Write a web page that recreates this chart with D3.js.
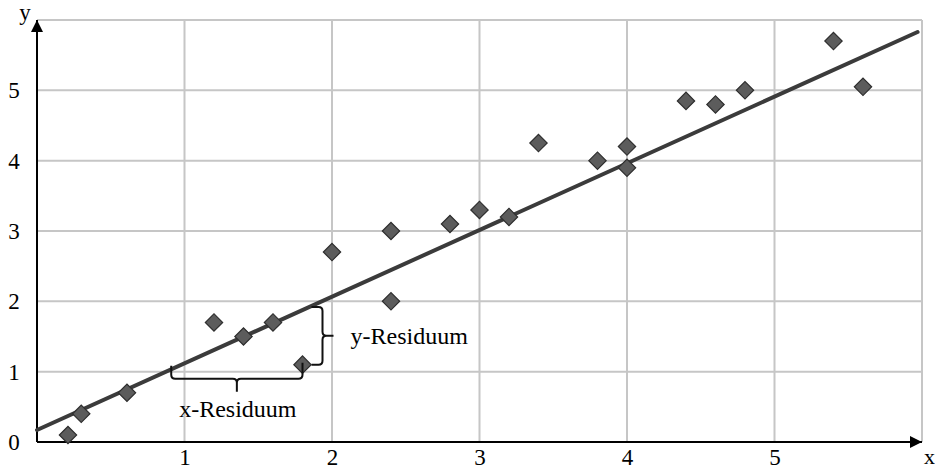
<!DOCTYPE html>
<html><head><meta charset="utf-8">
<script src="https://cdn.jsdelivr.net/npm/d3@7"></script>
<style>
html,body{margin:0;padding:0;background:#fff;}
svg{display:block;}
text{font-family:"Liberation Serif","Times New Roman",serif;fill:#000;}
</style></head>
<body>
<svg id="chart" width="935" height="470"></svg>
<script>
// ---- data ----
const xValues = [0.21,0.3,0.61,1.2,1.4,1.6,1.8,2.0,2.4,2.4,2.8,3.0,3.2,3.4,3.8,4.0,4.0,4.4,4.6,4.8,5.4,5.6];
const yValues = [0.1,0.4,0.7,1.7,1.5,1.7,1.1,2.7,3.0,2.0,3.1,3.3,3.2,4.25,4.0,4.2,3.9,4.85,4.8,5.0,5.7,5.05];
const regLineX = [0, 5.97];
const regLineY = [0.17, 5.83];
const xTickLabels = [1,2,3,4,5];
const yTickLabels = [0,1,2,3,4,5];
const gridX = [1,2,3,4,5,6];
const gridY = [1,2,3,4,5,6];
const xResidual = {x0:0.91, x1:1.8, y:1.1, label:"x-Residuum"};
const yResidual = {x:1.8, y0:1.1, y1:1.92, label:"y-Residuum"};
const axisNames = {x:"x", y:"y"};

// ---- scales ----
const svg = d3.select("#chart");
const x = d3.scaleLinear().domain([0,6]).range([37,922]);
const y = d3.scaleLinear().domain([0,6]).range([442,20]);

// grid
const g = svg.append("g");
g.selectAll("line.gx").data(gridX).join("line")
  .attr("x1",d=>x(d)).attr("x2",d=>x(d)).attr("y1",y(0)).attr("y2",y(6))
  .attr("stroke","#c6c6c6").attr("stroke-width",2);
g.selectAll("line.gy").data(gridY).join("line")
  .attr("x1",x(0)).attr("x2",x(6)).attr("y1",d=>y(d)).attr("y2",d=>y(d))
  .attr("stroke","#c6c6c6").attr("stroke-width",2);

// axes with arrows
svg.append("defs").append("marker").attr("id","arrow")
  .attr("viewBox","0 0 10 10").attr("refX",10).attr("refY",5)
  .attr("markerWidth",9).attr("markerHeight",6).attr("markerUnits","strokeWidth")
  .attr("orient","auto")
  .append("path").attr("d","M0,0 L10,5 L0,10 Z").attr("fill","#000");
svg.append("line").attr("x1",x(0)).attr("y1",y(0)).attr("x2",x(6)).attr("y2",y(0))
  .attr("stroke","#000").attr("stroke-width",2).attr("marker-end","url(#arrow)");
svg.append("line").attr("x1",x(0)).attr("y1",y(0)).attr("x2",x(0)).attr("y2",y(6))
  .attr("stroke","#000").attr("stroke-width",2).attr("marker-end","url(#arrow)");

// tick labels via axes
const xAxis = d3.axisBottom(x).tickValues(xTickLabels).tickSize(0).tickPadding(0).tickFormat(d3.format("d"));
const xa = svg.append("g").attr("transform",`translate(0,${y(0)})`).call(xAxis);
xa.select(".domain").remove();
xa.selectAll("text").attr("dy",null).attr("y",23).attr("font-size",23)
  .attr("font-family","Liberation Serif, serif").attr("fill","#000");

const yAxis = d3.axisLeft(y).tickValues(yTickLabels).tickSize(0).tickPadding(0).tickFormat(d3.format("d"));
const ya = svg.append("g").attr("transform",`translate(14,0)`).call(yAxis);
ya.select(".domain").remove();
ya.selectAll("text").attr("text-anchor","middle").attr("x",0).attr("dy","0.32em").attr("font-size",23)
  .attr("font-family","Liberation Serif, serif").attr("fill","#000");

svg.append("text").attr("x",25).attr("y",20).attr("text-anchor","middle").attr("font-size",23).text(axisNames.y);
svg.append("text").attr("x",924).attr("y",464).attr("font-size",22).text(axisNames.x);

// regression line
svg.append("line")
  .attr("x1",x(regLineX[0])).attr("y1",y(regLineY[0]))
  .attr("x2",x(regLineX[1])).attr("y2",y(regLineY[1]))
  .attr("stroke","#3b3b3b").attr("stroke-width",4).attr("stroke-linecap","round");

// points
const pts = xValues.map((v,i)=>({x:v,y:yValues[i]}));
svg.selectAll("path.pt").data(pts).join("path")
  .attr("class","pt")
  .attr("d",d3.symbol(d3.symbolSquare,150)())
  .attr("transform",d=>`translate(${x(d.x)},${y(d.y)}) rotate(45)`)
  .attr("fill","#5c5c5c").attr("stroke","#2e2e2e").attr("stroke-width",1.2);

// braces
const bStroke = {fill:"none",stroke:"#111","stroke-width":2};
function applyStyle(sel){ for (const k in bStroke) sel.attr(k,bStroke[k]); return sel; }
// x-residual brace (horizontal, below)
{
  const xa0 = x(xResidual.x0), xb0 = x(xResidual.x1), yt = y(xResidual.y);
  const ym = yt + 14, xc = (xa0+xb0)/2, r = 4;
  const p = `M${xa0},${yt+1} L${xa0},${ym-r} Q${xa0},${ym} ${xa0+r},${ym} L${xc-r},${ym} Q${xc},${ym} ${xc},${ym+r} L${xc},${ym+13}
             M${xc},${ym+r} Q${xc},${ym} ${xc+r},${ym} L${xb0-r},${ym} Q${xb0},${ym} ${xb0},${ym-r} L${xb0},${yt-2}`;
  applyStyle(svg.append("path").attr("d",p));
  svg.append("text").attr("x",xc+1).attr("y",ym+38).attr("text-anchor","middle").attr("font-size",24).text(xResidual.label);
}
// y-residual brace (vertical, right)
{
  const xl = x(yResidual.x)+9, yb = y(yResidual.y0), yt = y(yResidual.y1);
  const xm = xl + 11, yc = (yb+yt)/2, r = 4;
  const p = `M${xl},${yt} L${xm-r},${yt} Q${xm},${yt} ${xm},${yt+r} L${xm},${yc-r} Q${xm},${yc} ${xm+r},${yc} L${xm+11},${yc}
             M${xm+r},${yc} Q${xm},${yc} ${xm},${yc+r} L${xm},${yb-r} Q${xm},${yb} ${xm-r},${yb} L${xl},${yb}`;
  applyStyle(svg.append("path").attr("d",p));
  svg.append("text").attr("x",xm+28).attr("y",yc+8).attr("font-size",24).text(yResidual.label);
}
</script>
</body></html>
